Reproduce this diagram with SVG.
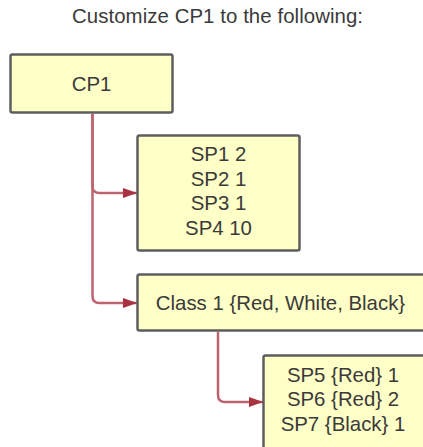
<svg xmlns="http://www.w3.org/2000/svg" width="423" height="447" viewBox="0 0 423 447">
<defs>
<style>
.box{fill:#ffffc8;stroke:#5e5e5e;stroke-width:2.5}
.t{font-family:"Liberation Sans",Arial,sans-serif;font-size:20.4px;fill:#3a3a3a;text-anchor:middle}
.c{fill:none;stroke:#bd6470;stroke-width:2.5}
</style>
<marker id="arr" viewBox="0 0 14 10" refX="14" refY="5" markerWidth="14" markerHeight="10" markerUnits="userSpaceOnUse" orient="auto">
<path d="M0,0 L14,5 L0,10 Z" fill="#a8323e"/>
</marker>
</defs>
<rect width="423" height="447" fill="#ffffff"/>
<text class="t" x="217.5" y="23" textLength="291" lengthAdjust="spacing">Customize CP1 to the following:</text>
<g id="connectors">
<path class="c" d="M92.5,114 V296 Q92.5,303 99.5,303 H137" marker-end="url(#arr)"/>
<path class="c" d="M92.5,114 V186 Q92.5,193 99.5,193 H137" marker-end="url(#arr)"/>
<path class="c" d="M218,332 V395 Q218,402 225,402 H263" marker-end="url(#arr)"/>
</g>
<g id="cp1">
<rect class="box" x="10.5" y="54.5" width="162" height="58" rx="2"/>
<text class="t" x="91.5" y="90.5">CP1</text>
</g>
<g id="sp1to4">
<rect class="box" x="137.5" y="135.5" width="162" height="115" rx="2"/>
<text class="t" x="218.5" y="161">SP1 2</text>
<text class="t" x="218.5" y="185.7">SP2 1</text>
<text class="t" x="218.5" y="210.4">SP3 1</text>
<text class="t" x="218.5" y="235">SP4 10</text>
</g>
<g id="class1">
<rect class="box" x="137.5" y="274.5" width="300" height="56" rx="2"/>
<text class="t" x="280.5" y="309.5">Class 1 {Red, White, Black}</text>
</g>
<g id="sp5to7">
<rect class="box" x="263.5" y="355.5" width="180" height="110" rx="2"/>
<text class="t" x="343" y="381.5">SP5 {Red} 1</text>
<text class="t" x="343" y="406.2">SP6 {Red} 2</text>
<text class="t" x="343" y="431">SP7 {Black} 1</text>
</g>
</svg>
